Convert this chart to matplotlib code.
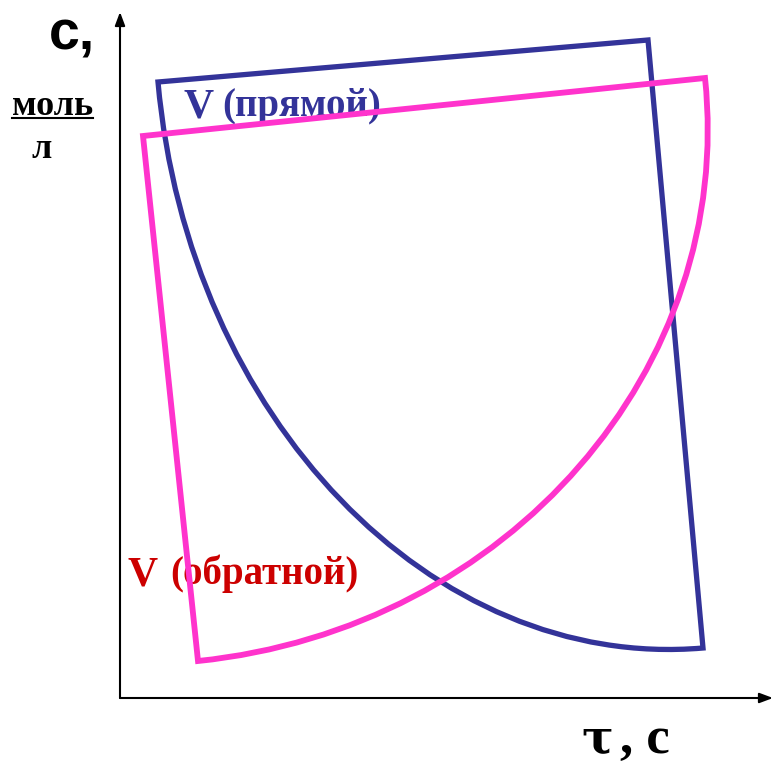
import matplotlib
matplotlib.use('Agg')
import matplotlib.pyplot as plt
from matplotlib.path import Path
from matplotlib.patches import PathPatch, FancyArrowPatch

# Schematic rate curves; coordinates in arbitrary units (origin at axes corner)
# each shape: corner of the quarter-ellipse sector and the two edge ends
FORWARD_CORNER = (528, 658)
FORWARD_ENDS = [(38, 616), (583, 50)]
REVERSE_CORNER = (23, 562)
REVERSE_ENDS = [(585, 620), (78, 37)]

FORWARD_LABEL = ('V', '(прямой)')
REVERSE_LABEL = ('V', '(обратной)')
Y_LABEL = ('с,', 'моль', 'л')
X_LABEL = ('τ', ', с')

BLUE = '#333399'
PINK = '#ff33cc'
RED = '#cc0000'
SERIF = 'Liberation Serif'
SANS = 'Liberation Sans'

K = 0.5523  # bezier factor for a quarter ellipse


def sector_path(corner, ends):
    cx, cy = corner
    (ax_, ay_), (bx_, by_) = ends
    a = (ax_ - cx, ay_ - cy)
    b = (bx_ - cx, by_ - cy)
    verts = [
        corner,
        (ax_, ay_),
        (cx + a[0] + K * b[0], cy + a[1] + K * b[1]),
        (cx + K * a[0] + b[0], cy + K * a[1] + b[1]),
        (bx_, by_),
        corner,
    ]
    codes = [Path.MOVETO, Path.LINETO, Path.CURVE4, Path.CURVE4, Path.CURVE4,
             Path.CLOSEPOLY]
    return Path(verts, codes)


fig = plt.figure(figsize=(7.75, 7.72), dpi=100)
ax = fig.add_axes([0, 0, 1, 1])
ax.set_xlim(-120, 655)
ax.set_ylim(-74, 698)
ax.axis('off')

# axes with arrows
ax.add_patch(FancyArrowPatch((0, 0), (0, 686), arrowstyle='-|>,head_length=8,head_width=3',
                             color='black', lw=1.5, shrinkA=0, shrinkB=0, zorder=1))
ax.add_patch(FancyArrowPatch((0, 0), (653, 0), arrowstyle='-|>,head_length=8,head_width=3',
                             color='black', lw=1.5, shrinkA=0, shrinkB=0, zorder=1))

# labels (drawn below the curves)
ax.text(63, 580, FORWARD_LABEL[0], color=BLUE, fontsize=30, fontweight='bold',
        family=SERIF, va='baseline', zorder=2)
ax.text(102, 582, FORWARD_LABEL[1], color=BLUE, fontsize=28, fontweight='bold',
        family=SERIF, va='baseline', zorder=2)
ax.text(7, 113, REVERSE_LABEL[0], color=RED, fontsize=30, fontweight='bold',
        family=SERIF, va='baseline', zorder=2)
ax.text(50, 114, REVERSE_LABEL[1], color=RED, fontsize=28, fontweight='bold',
        family=SERIF, va='baseline', zorder=2)

ax.add_patch(PathPatch(sector_path(FORWARD_CORNER, FORWARD_ENDS), fill=False,
                       edgecolor=BLUE, lw=3.8, joinstyle='miter', zorder=3))
ax.add_patch(PathPatch(sector_path(REVERSE_CORNER, REVERSE_ENDS), fill=False,
                       edgecolor=PINK, lw=4.2, joinstyle='miter', zorder=4))

ax.text(-71, 648, Y_LABEL[0], fontsize=40, fontweight='bold', family=SANS,
        va='baseline')
unit = ax.text(-108, 583, Y_LABEL[1], fontsize=26, fontweight='bold', family=SERIF,
               va='baseline')
ax.text(-89, 540, Y_LABEL[2], fontsize=26, fontweight='bold', family=SERIF,
        va='baseline')
ax.text(461, -55, X_LABEL[0], fontsize=34, fontweight='bold', family='DejaVu Serif',
        va='baseline')
ax.text(500, -55, X_LABEL[1], fontsize=38, fontweight='bold', family=SERIF,
        va='baseline')

# underline under "моль"
fig.canvas.draw()
bb = unit.get_window_extent().transformed(ax.transData.inverted())
ax.plot([bb.x0, bb.x1], [580, 580], color='black', lw=1.5)

fig.savefig('out.png', dpi=100, facecolor='white')
